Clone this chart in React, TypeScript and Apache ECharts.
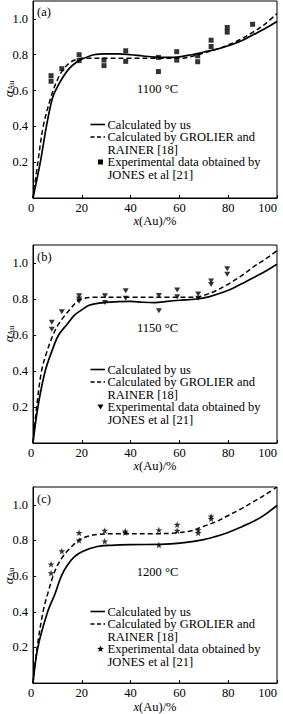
import React, { useEffect, useRef } from 'react';
import * as echarts from 'echarts';

const FONT = 'Liberation Serif, DejaVu Serif, serif';
const FS = 12.5;

const panelLabels = ['(a)', '(b)', '(c)'];
const temps = ['1100 °C', '1150 °C', '1200 °C'];
const legendTexts = [
  'Calculated by us',
  'Calculated by GROLIER and',
  'RAINER [18]',
  'Experimental data obtained by',
  'JONES et al [21]',
];
const xTicks = [0, 20, 40, 60, 80, 100];

// Panel (a) 1100 °C
const usA = [[0,0],[3,0.2],[5.5,0.4],[8,0.56],[10,0.62],[12.5,0.68],[15,0.725],[17.5,0.755],[20,0.775],[25,0.8],[30,0.805],[35,0.805],[40,0.8],[45,0.793],[50,0.787],[55,0.785],[60,0.788],[65,0.8],[70,0.815],[75,0.83],[80,0.85],[85,0.875],[90,0.91],[95,0.945],[100,0.985]];
const grA = [[0,0],[2,0.2],[4.2,0.4],[7.5,0.57],[10,0.66],[12,0.71],[15,0.755],[18,0.775],[20,0.78],[30,0.78],[40,0.78],[50,0.78],[60,0.78],[65,0.79],[70,0.81],[75,0.83],[80,0.855],[85,0.885],[90,0.925],[95,0.97],[100,1.03]];
const expA = [[7.4,0.683],[7.4,0.652],[11.8,0.722],[18.9,0.8],[18.9,0.767],[29.1,0.77],[29.1,0.739],[38,0.822],[38,0.763],[51.4,0.785],[51.4,0.706],[58.9,0.817],[58.9,0.77],[67.5,0.794],[67.5,0.761],[73,0.881],[73,0.846],[79.6,0.952],[79.6,0.926],[90,0.97]];

// Panel (b) 1150 °C
const usB = [[0,0],[2,0.2],[5,0.4],[8,0.52],[10.5,0.6],[14,0.66],[17,0.71],[20,0.74],[23,0.765],[27,0.777],[35,0.785],[40,0.787],[45,0.782],[50,0.78],[55,0.787],[60,0.793],[67,0.8],[72,0.812],[77,0.833],[82,0.86],[87,0.895],[92,0.93],[96,0.96],[100,0.993]];
const grB = [[0,0],[1.5,0.2],[3.5,0.4],[6,0.52],[8.2,0.6],[10,0.65],[12,0.69],[15,0.74],[18,0.785],[20,0.8],[25,0.81],[40,0.81],[55,0.81],[67,0.81],[70,0.82],[74,0.84],[79,0.875],[85,0.925],[90,0.975],[95,1.02],[100,1.068]];
const expB = [[7.7,0.671],[7.7,0.632],[11.8,0.729],[18.9,0.818],[18.9,0.8],[18.9,0.787],[29.5,0.818],[29.5,0.78],[38,0.846],[38,0.804],[51.6,0.82],[51.6,0.735],[59.1,0.85],[59.1,0.813],[67.7,0.828],[67.7,0.804],[73,0.9],[73,0.88],[79.6,0.968],[79.6,0.938]];

// Panel (c) 1200 °C
const usC = [[0,0],[2,0.2],[6,0.4],[9,0.5],[11.6,0.6],[14,0.66],[17,0.71],[20.5,0.74],[26,0.765],[32,0.773],[40,0.777],[52,0.778],[62,0.788],[70,0.805],[75,0.823],[80,0.845],[86,0.88],[90,0.905],[94,0.935],[100,0.996]];
const grC = [[0,0],[1.7,0.2],[4.1,0.4],[6,0.5],[8.2,0.6],[10,0.66],[12.4,0.713],[14,0.74],[16.5,0.775],[19.3,0.806],[23,0.825],[27,0.835],[35,0.838],[50,0.838],[58,0.842],[65,0.855],[70,0.88],[75,0.905],[80,0.94],[85,0.975],[90,1.015],[95,1.055],[100,1.1]];
const expC = [[7.4,0.667],[7.4,0.617],[11.8,0.741],[18.9,0.843],[18.9,0.801],[29.4,0.855],[29.4,0.796],[37.8,0.852],[37.8,0.845],[51.6,0.859],[51.6,0.775],[59.1,0.889],[59.1,0.855],[67.7,0.859],[67.7,0.843],[73,0.935],[73,0.922]];

const STAR = 'path://M50,0 L61,35 L98,35 L68,57 L79,91 L50,70 L21,91 L32,57 L2,35 L39,35 Z';

const panels = [
  { top: 1, height: 197, us: usA, gr: grA, exp: expA, symbol: 'rect', symbolSize: [5, 5], rotate: 0, nameGap: 16, tempY: 89 },
  { top: 245, height: 198, us: usB, gr: grB, exp: expB, symbol: 'triangle', symbolSize: [6, 5], rotate: 180, nameGap: 13, tempY: 328 },
  { top: 487, height: 198, us: usC, gr: grC, exp: expC, symbol: STAR, symbolSize: [7, 7], rotate: 0, nameGap: 13, tempY: 572 },
];

function starPoints(cx: number, cy: number, R: number, r: number) {
  const pts: number[][] = [];
  for (let k = 0; k < 10; k++) {
    const ang = -Math.PI / 2 + (k * Math.PI) / 5;
    const rad = k % 2 === 0 ? R : r;
    pts.push([cx + rad * Math.cos(ang), cy + rad * Math.sin(ang)]);
  }
  return pts;
}

function txt(x: number, y: number, text: string, align = 'left', extra: any = {}) {
  return {
    type: 'text',
    x,
    y,
    silent: true,
    style: {
      text,
      fill: '#000',
      fontFamily: FONT,
      fontSize: FS,
      align,
      textAlign: align,
      verticalAlign: 'middle',
      textVerticalAlign: 'middle',
      ...extra,
    },
  };
}

export default function App() {
  const ref = useRef<HTMLDivElement>(null);
  useEffect(() => {
    if (!ref.current) return;
    const chart = echarts.init(ref.current, null, { renderer: 'svg' });
    const L = 33;
    const W = 244;
    const grids: any[] = [];
    const xAxes: any[] = [];
    const yAxes: any[] = [];
    const series: any[] = [];
    const graphics: any[] = [];

    panels.forEach((p, i) => {
      grids.push({ left: L, top: p.top, width: W, height: p.height, show: true, borderColor: '#000', borderWidth: 1, backgroundColor: 'transparent' });
      xAxes.push({
        gridIndex: i, type: 'value', min: xTicks[0], max: xTicks[xTicks.length - 1], interval: 20,
        axisLine: { show: true, lineStyle: { color: '#000', width: 1 } },
        axisTick: { show: true, inside: true, length: 3, lineStyle: { color: '#000' } },
        splitLine: { show: false },
        axisLabel: {
          color: '#000', fontFamily: FONT, fontSize: FS, margin: 3, alignMaxLabel: 'right',
          formatter: (v: number) => (v === 0 ? '{z|0}' : String(v)),
          rich: { z: { padding: [0, 4, 0, 0], color: '#000', fontFamily: FONT, fontSize: FS } },
        },
        name: '{i|x}(Au)/%', nameLocation: 'middle', nameGap: p.nameGap,
        nameTextStyle: { color: '#000', fontFamily: FONT, fontSize: FS, rich: { i: { fontStyle: 'italic', fontFamily: FONT, fontSize: FS, color: '#000' } } },
      });
      yAxes.push({
        gridIndex: i, type: 'value', min: 0, max: 1.1, interval: 0.2,
        axisLine: { show: true, lineStyle: { color: '#000', width: 1 } },
        axisTick: { show: true, inside: true, length: 3, lineStyle: { color: '#000' } },
        splitLine: { show: false },
        axisLabel: {
          color: '#000', fontFamily: FONT, fontSize: FS, margin: 5, showMaxLabel: false,
          formatter: (v: number) => (v === 0 || v > 1.05 ? '' : v.toFixed(1)),
        },
      });
      series.push({
        type: 'line', xAxisIndex: i, yAxisIndex: i, data: p.us, smooth: 0.35, showSymbol: false,
        lineStyle: { color: '#000', width: 1.7 }, clip: true,
      });
      series.push({
        type: 'line', xAxisIndex: i, yAxisIndex: i, data: p.gr, smooth: 0.35, showSymbol: false,
        lineStyle: { color: '#000', width: 1.5, type: [5, 3] }, clip: true,
      });
      series.push({
        type: 'scatter', xAxisIndex: i, yAxisIndex: i, data: p.exp, symbol: p.symbol,
        symbolSize: p.symbolSize, symbolRotate: p.rotate, itemStyle: { color: '#000' },
      });

      const T = i === 0 ? 0 : p.top;
      graphics.push(txt(37, T + 12, panelLabels[i]));
      graphics.push(txt(157.5, p.tempY, temps[i], 'center'));
      graphics.push({
        type: 'text', x: 8, y: T + 89, rotation: Math.PI / 2, silent: true,
        style: {
          text: '{a|α}{s|Au}', align: 'center', textAlign: 'center', verticalAlign: 'middle', textVerticalAlign: 'middle',
          rich: {
            a: { fontFamily: FONT, fontSize: 13, fontStyle: 'italic', fill: '#000', color: '#000' },
            s: { fontFamily: FONT, fontSize: 8, fill: '#000', color: '#000', padding: [7, 0, 0, 0] },
          },
        },
      });
      const rows = [124.5, 137, 149.5, 162, 174.5].map((d) => T + d);
      rows.forEach((ry, k) => graphics.push(txt(107.5, ry, legendTexts[k])));
      graphics.push({ type: 'line', silent: true, shape: { x1: 90.5, y1: rows[0], x2: 105, y2: rows[0] }, style: { stroke: '#000', lineWidth: 1.6 } });
      graphics.push({ type: 'line', silent: true, shape: { x1: 90.5, y1: rows[1], x2: 105, y2: rows[1] }, style: { stroke: '#000', lineWidth: 1.4, lineDash: [4, 2.5] } });
      if (i === 0) {
        graphics.push({ type: 'rect', silent: true, shape: { x: 98, y: rows[3] - 2.5, width: 5, height: 5 }, style: { fill: '#000' } });
      } else if (i === 1) {
        graphics.push({ type: 'polygon', silent: true, shape: { points: [[97.5, rows[3] - 2.5], [103.5, rows[3] - 2.5], [100.5, rows[3] + 2.5]] }, style: { fill: '#000' } });
      } else {
        graphics.push({ type: 'polygon', silent: true, shape: { points: starPoints(100.5, rows[3], 3.6, 1.5) }, style: { fill: '#000' } });
      }
    });

    chart.setOption({
      animation: false,
      backgroundColor: '#fff',
      grid: grids,
      xAxis: xAxes,
      yAxis: yAxes,
      series,
      graphic: graphics,
    });
    return () => chart.dispose();
  }, []);
  return <div ref={ref} style={{ position: 'absolute', left: 0, top: 0, width: 283, height: 714, background: '#fff' }} />;
}
